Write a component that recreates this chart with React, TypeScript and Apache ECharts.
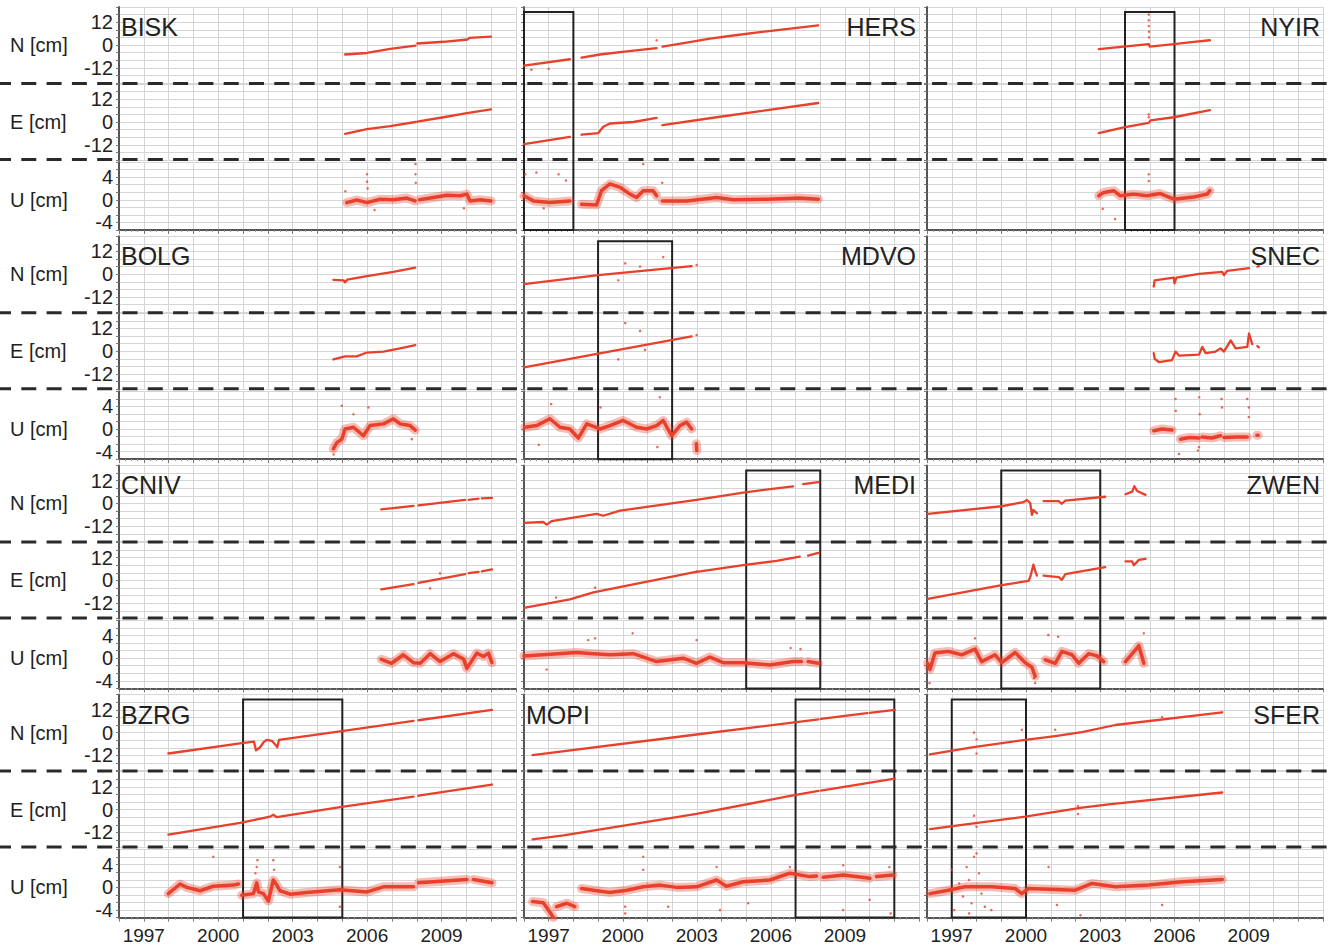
import React, { useEffect, useRef } from 'react';
import * as echarts from 'echarts';

type Pt = [number, number];
type Seg = Pt[];

// ---------- axis values ----------
const YEAR_MIN = 1996;
const YEAR_MAX = 2012;
const YEAR_LABELS = [1997, 2000, 2003, 2006, 2009];
const NE_TICK_LABELS = [12, 0, -12];
const U_TICK_LABELS = [4, 0, -4];
const COMPONENT_LABELS = ['N [cm]', 'E [cm]', 'U [cm]'];

// ---------- station data (year, cm) ----------
const BISK_N: Seg[] = [
  [[2005.11, -5.0], [2005.99, -4.2], [2006.93, -2.0], [2007.95, -0.3]],
  [[2008.02, 0.8], [2009.08, 1.7], [2010.05, 2.9], [2010.12, 3.8], [2010.99, 4.4]],
];
const BISK_E: Seg[] = [
  [[2005.11, -6.2], [2005.99, -3.8], [2006.93, -2.2], [2007.95, 0.0]],
  [[2008.02, 0.2], [2009.08, 2.5], [2010.02, 4.7], [2010.99, 6.7]],
];
const BISK_U: Seg[] = [
  [[2005.18, -0.5], [2005.58, -0.05], [2005.99, -0.5], [2006.52, 0.1], [2007.06, 0], [2007.6, 0.3], [2007.93, -0.2]],
  [[2008.11, 0], [2008.67, 0.4], [2009.21, 0.8], [2009.75, 0.7], [2010.02, 1.0], [2010.15, -0.2], [2010.56, 0], [2010.99, -0.2]],
];
const BISK_U_OUT: Pt[] = [[2006.0, 4.5], [2006.0, 3.2], [2006.02, 2.0], [2007.95, 6.3], [2007.95, 4.5], [2007.96, 3], [2005.12, 1.5], [2006.3, -1.8], [2009.9, -1.5]];

const HERS_N: Seg[] = [
  [[1996.0, -10.8], [1997.86, -7.5]],
  [[1998.33, -6.7], [1999.08, -5], [2000.16, -3.3], [2001.37, -1.7]],
  [[2001.61, -0.8], [2002.59, 1.2], [2003.53, 3.3], [2004.48, 5], [2005.83, 7.2], [2007.92, 10.3]],
];
const HERS_N_OUT: Pt[] = [[2001.37, 2.5], [1996.3, -13], [1997.0, -12.5]];
const HERS_E: Seg[] = [
  [[1996.0, -11.7], [1997.86, -7.8]],
  [[1998.33, -6.7], [1999.01, -5.8], [1999.21, -2.5], [1999.48, -0.8], [2000.43, 0], [2001.37, 2.2]],
  [[2001.61, -1.7], [2003.8, 2.5], [2007.92, 10]],
];
const HERS_U: Seg[] = [
  [[1996.0, 0.7], [1996.38, -0.2], [1997.05, -0.5], [1997.86, -0.2]],
  [[1998.33, -0.8], [1998.94, -0.9], [1999.14, 1.6], [1999.48, 2.8], [1999.89, 2.2], [2000.29, 1.0], [2000.56, 0.4], [2000.83, 1.6], [2001.23, 1.6], [2001.37, 0.7]],
  [[2001.61, -0.2], [2002.59, -0.2], [2003.8, 0.4], [2004.48, 0], [2005.83, 0.1], [2007.17, 0.3], [2007.92, 0.1]],
];
const HERS_U_OUT: Pt[] = [[1996.05, 4.5], [1996.5, 4.8], [1997.4, 4.5], [1997.7, 3.4], [2000.83, 6.3], [2001.6, 3], [1996.8, -1.5]];

const NYIR_N: Seg[] = [
  [[2002.94, -2.2], [2003.95, -0.8], [2004.96, 0.5], [2005.0, -0.8], [2005.97, 0.5], [2006.78, 1.7], [2007.43, 2.5]],
];
const NYIR_N_OUT: Pt[] = [[2004.96, 16], [2004.96, 13], [2004.96, 10], [2004.97, 7], [2004.97, 4]];
const NYIR_E: Seg[] = [
  [[2002.94, -5.8], [2003.95, -2.8], [2004.96, -0.5], [2005.03, 0.8], [2005.97, 2.5], [2007.43, 6.2]],
];
const NYIR_E_OUT: Pt[] = [[2004.96, 4], [2004.96, 2.5]];
const NYIR_U: Seg[] = [
  [[2002.94, 0.7], [2003.14, 1.3], [2003.54, 1.6], [2003.81, 0.7], [2004.35, 1.0], [2004.89, 0.7], [2005.43, 1.1], [2005.97, 0.1], [2006.78, 0.5], [2007.32, 1.0], [2007.43, 1.6]],
];
const NYIR_U_OUT: Pt[] = [[2004.96, 4.5], [2004.96, 3.3], [2003.1, -1.6], [2003.6, -3.4]];

const BOLG_N: Seg[] = [
  [[2004.64, -3], [2005.05, -3.2], [2005.11, -4.3], [2005.2, -2.9], [2005.99, -1], [2007.06, 1.2], [2007.94, 3.5]],
];
const BOLG_E: Seg[] = [
  [[2004.64, -4.3], [2005.11, -2.7], [2005.58, -2.7], [2005.99, -0.7], [2006.66, -0.2], [2007.33, 1.5], [2007.94, 3.2]],
];
const BOLG_U: Seg[] = [
  [[2004.64, -3.5], [2004.78, -2.4], [2004.98, -1.8], [2005.11, 0], [2005.45, 0.3], [2005.85, -1.2], [2006.12, 0.6], [2006.66, 0.9], [2007.06, 1.8], [2007.33, 0.9], [2007.73, 0.6], [2007.94, -0.2]],
];
const BOLG_U_OUT: Pt[] = [[2004.98, 4.1], [2006.05, 3.8], [2005.45, 2.6], [2007.8, -1.8], [2004.65, -4.5]];

const MDVO_N: Seg[] = [[[1996.0, -5.2], [1999.01, -0.5], [2002.79, 4.3]]];
const MDVO_N_OUT: Pt[] = [[2002.99, 4.8], [2001.64, 9], [1999.82, -3.2], [2000.1, 5.7], [2000.7, 4]];
const MDVO_E: Seg[] = [[[1996.0, -8.5], [1999.01, -1.3], [2002.79, 7.8]]];
const MDVO_E_OUT: Pt[] = [[2002.99, 8.5], [2000.1, 14.8], [2000.7, 10.7], [1999.82, -4.3], [2000.9, 0.7]];
const MDVO_U: Seg[] = [
  [[1996.04, 0.3], [1996.51, 0.6], [1997.05, 1.8], [1997.46, 0.3], [1997.86, 0], [1998.2, -1.6], [1998.54, 0.9], [1999.08, 0], [1999.48, 0.6], [2000.02, 1.5], [2000.56, 0.3], [2000.97, 0], [2001.37, 0.6], [2001.64, 1.5], [2001.98, -1.2], [2002.32, 0.6], [2002.59, 1.2], [2002.79, 0]],
  [[2002.98, -2.6], [2003.0, -3.8]],
];
const MDVO_U_OUT: Pt[] = [[1997.1, 4.4], [1999.1, 3.8], [2001.5, 5.6], [2001.4, -3.2], [1996.6, -2.8]];

const SNEC_N: Seg[] = [
  [[2005.16, -6.5], [2005.2, -3.2], [2005.97, -1.8], [2006.0, -4.8], [2006.08, -1.8], [2006.99, 0.2], [2007.93, 1.2], [2008.0, -0.5], [2008.13, 1.8], [2009.01, 3.2]],
  [[2009.35, 4.0], [2009.41, 4.2]],
];
const SNEC_E: Seg[] = [
  [[2005.16, -1], [2005.2, -4], [2005.37, -5.7], [2005.9, -4.7], [2006.04, -0.2], [2006.18, -2.3], [2006.99, -1.8], [2007.12, 2.3], [2007.26, -1], [2007.66, -0.2], [2007.86, 1.5], [2008.0, -0.2], [2008.27, 5.7], [2008.47, 1.5], [2008.94, 2.3], [2009.01, 9.3], [2009.14, 3.7]],
  [[2009.35, 2.7], [2009.41, 2]],
];
const SNEC_U: Seg[] = [
  [[2005.16, -0.3], [2005.5, 0], [2005.9, -0.2]],
  [[2006.24, -1.8], [2006.6, -1.5], [2006.99, -1.6]],
  [[2007.12, -1.4], [2007.5, -1.6], [2007.86, -1.2]],
  [[2008.0, -1.5], [2008.5, -1.4], [2008.94, -1.4]],
  [[2009.33, -1.1], [2009.38, -1.1]],
];
const SNEC_U_OUT: Pt[] = [[2006.04, 5.3], [2006.05, 3.2], [2006.18, -4.4], [2007.0, 5.6], [2007.02, 2.6], [2006.95, -3.8], [2007.9, 5.3], [2007.92, 3.8], [2008.94, 5.3], [2009.0, 3.8], [2009.0, 2.1], [2006.99, -3.2]];

const CNIV_N: Seg[] = [
  [[2006.57, -3.2], [2007.87, -1.3]],
  [[2008.07, -1], [2009.95, 1.8]],
  [[2010.09, 1.9], [2010.49, 2.5]],
  [[2010.62, 2.6], [2011.03, 2.9]],
];
const CNIV_E: Seg[] = [
  [[2006.57, -4.7], [2007.87, -2]],
  [[2008.07, -1.3], [2009.95, 3.3]],
  [[2010.09, 3.8], [2010.49, 4.5]],
  [[2010.62, 4.8], [2011.03, 5.8]],
];
const CNIV_E_OUT: Pt[] = [[2008.94, 3.7], [2008.54, -4.2]];
const CNIV_U: Seg[] = [
  [[2006.57, -0.2], [2006.99, -0.9], [2007.46, 0.6], [2007.87, -0.8], [2008.14, -0.9], [2008.54, 0.8], [2008.94, -0.6], [2009.48, 0.8], [2009.89, -0.2], [2010.02, -1.8], [2010.42, 0.9], [2010.69, 0.3], [2010.89, 0.9], [2011.03, -0.8]],
];

const MEDI_N: Seg[] = [
  [[1996.0, -10.2], [1996.78, -9.8], [1996.92, -11.2], [1997.12, -9.3], [1998.94, -5.5], [1999.21, -6.5], [1999.89, -3.8], [2002.99, 1.8], [2004.88, 5.7], [2006.9, 9]],
  [[2007.31, 10.2], [2007.92, 11.2]],
];
const MEDI_E: Seg[] = [
  [[1996.0, -14.5], [1997.86, -10], [1998.81, -6.3], [2002.86, 4.2], [2004.88, 8], [2006.23, 10.3], [2007.17, 12.5]],
  [[2007.51, 13], [2007.92, 14.5]],
];
const MEDI_E_OUT: Pt[] = [[1998.88, -3.8], [2002.99, 4.8], [1997.3, -9.0]];
const MEDI_U: Seg[] = [
  [[1996.0, 0.4], [1996.78, 0.6], [1998.13, 1.0], [1998.81, 0.8], [1999.48, 0.6], [2000.43, 0.8], [2001.37, -0.6], [2002.45, 0], [2002.99, -0.9], [2003.53, 0.2], [2004.07, -0.8], [2004.88, -0.8], [2005.96, -1.2], [2006.9, -0.6], [2007.24, -0.6]],
  [[2007.51, -0.6], [2007.92, -0.9]],
];
const MEDI_U_OUT: Pt[] = [[1998.88, 3.5], [1998.6, 3.2], [2006.8, 1.8], [2007.2, 1.6], [2000.4, 4.4], [2002.99, 3.2], [1996.92, -2]];

const ZWEN_N: Seg[] = [
  [[1996.03, -5.5], [1999.02, -1.5], [1999.9, 0.7], [2000.04, 1.8], [2000.17, 0.2], [2000.24, -6], [2000.3, -3.5], [2000.44, -5.2]],
  [[2000.71, 1.2], [2001.32, 1.2], [2001.45, -0.2], [2001.59, 1.5], [2003.2, 3.5]],
  [[2004.02, 4.8], [2004.29, 6.2], [2004.38, 9], [2004.49, 6.5], [2004.83, 4.5]],
];
const ZWEN_E: Seg[] = [
  [[1996.03, -9.7], [1999.02, -2.5], [2000.1, -0.3], [2000.17, 1.7], [2000.3, 8.3], [2000.37, 5], [2000.44, 2.5]],
  [[2000.71, 2.5], [2001.32, 1.7], [2001.45, 0.3], [2001.59, 3.3], [2003.2, 7]],
  [[2004.02, 10], [2004.29, 10], [2004.36, 8], [2004.56, 10.8], [2004.83, 11.3]],
];
const ZWEN_U: Seg[] = [
  [[1996.03, -0.9], [1996.12, -2], [1996.32, 0.9], [1996.86, 1.2], [1997.4, 0.6], [1997.94, 1.6], [1998.21, -0.6], [1998.75, 0.6], [1999.02, -0.8], [1999.56, 1.0], [1999.97, -0.8], [2000.24, -1.6], [2000.37, -3.2]],
  [[2000.78, -0.3], [2001.18, -0.9], [2001.45, 1.2], [2001.86, 0.6], [2002.13, -0.9], [2002.53, 0.8], [2002.87, 0.4], [2003.14, -0.6]],
  [[2004.02, -0.6], [2004.43, 1.5], [2004.56, 2.2], [2004.76, -0.9]],
];
const ZWEN_U_OUT: Pt[] = [[2000.37, -4.4], [2000.33, -3.5], [2000.9, 4.1], [2001.3, 3.8], [2004.76, 4.4], [1996.1, -4.4], [1997.94, 3.5]];

const BZRG_N: Seg[] = [
  [[1997.99, -11], [2000.88, -5.7], [2001.44, -4.8], [2001.52, -9.3], [2001.69, -7.7], [2001.82, -5.2], [2001.95, -3.8], [2002.16, -4.3], [2002.33, -6.8], [2002.38, -7.7], [2002.45, -3.8], [2004.91, 0.7], [2007.87, 6.2]],
  [[2008.07, 6.5], [2011.03, 12]],
];
const BZRG_E: Seg[] = [
  [[1997.99, -13.2], [2000.88, -7], [2002.09, -3.7], [2002.22, -2.7], [2002.36, -4], [2004.91, 1.3], [2007.87, 6.8]],
  [[2008.07, 7.3], [2011.03, 13.2]],
];
const BZRG_U: Seg[] = [
  [[1997.99, -1.1], [1998.46, 0.6], [1998.73, 0], [1999.27, -0.6], [1999.8, 0.2], [2000.61, 0.4], [2000.81, 0.6]],
  [[2000.95, -1.4], [2001.42, -1.1], [2001.55, 0.8], [2001.62, -0.8], [2001.82, -1.1], [2002.02, -2.4], [2002.22, 1.3], [2002.36, 0.4], [2002.49, -0.6], [2002.9, -1.2], [2003.57, -0.9], [2004.64, -0.5], [2004.91, -0.4], [2005.99, -0.8], [2006.66, 0.1], [2007.87, 0.1]],
  [[2008.07, 0.8], [2010.02, 1.4]],
  [[2010.29, 1.4], [2011.03, 0.8]],
];
const BZRG_U_OUT: Pt[] = [[2001.55, 3.6], [2001.58, 4.8], [2001.5, 2.5], [2002.22, 4.8], [2002.25, 3.1], [1999.8, 5.4], [2004.9, 3.6], [2004.9, -3.4]];

const MOPI_N: Seg[] = [
  [[1996.35, -11.8], [2002.99, -1], [2007.93, 7.0]],
  [[2008.03, 7.2], [2009.9, 10.2]],
  [[2010.0, 10.4], [2011.02, 12]],
];
const MOPI_E: Seg[] = [
  [[1996.35, -15.7], [1997.6, -13.6], [2002.99, -2.3], [2006.84, 7.3], [2007.93, 9.8]],
  [[2008.03, 10], [2011.02, 16.3]],
];
const MOPI_U: Seg[] = [
  [[1996.35, -2.5], [1996.78, -2.7], [1996.99, -4], [1997.19, -5.3]],
  [[1997.32, -3.4], [1997.73, -2.8], [1998.06, -3.4]],
  [[1998.33, -0.2], [1998.81, -0.5], [1999.48, -0.9], [2000.16, -0.5], [2000.83, 0.1], [2001.51, 0.4], [2002.18, 0], [2002.99, 0.1], [2003.8, 1.3], [2004.2, 0.2], [2004.88, 1.0], [2005.96, 1.3], [2006.77, 2.5], [2007.58, 1.9], [2007.85, 2.0]],
  [[2008.12, 1.8], [2008.93, 2.2], [2010.01, 1.6]],
  [[2010.28, 1.9], [2010.95, 2.2]],
];
const MOPI_U_OUT: Pt[] = [[2000.1, -4.6], [2000.1, -3.4], [2001.84, -3.4], [2003.94, -4], [2005.08, -2.8], [2008.93, -4], [2010.0, -2.2], [2003.8, 3.6], [2000.83, 5.4], [2000.83, 3.1], [2006.77, 3.6], [2008.93, 3.9], [2010.8, 3.6], [2010.85, -4.6]];

const SFER_N: Seg[] = [
  [[1996.12, -11.5], [1997.88, -7.7], [1999.97, -3.8], [2001.18, -1.8], [2002.26, 0.2], [2003.61, 4], [2007.93, 10.7]],
];
const SFER_N_OUT: Pt[] = [[1998.0, -3.5], [1997.9, 0], [1998.0, -11], [2001.18, 1.5], [1999.83, 1.5], [2005.5, 8.2]];
const SFER_E: Seg[] = [
  [[1996.12, -10.3], [1997.88, -7.3], [1999.97, -3.7], [2002.26, 1], [2003.34, 2.7], [2007.93, 9]],
];
const SFER_E_OUT: Pt[] = [[1997.9, -3.2], [1998.0, -9], [2002.1, -2.3], [2002.1, 1.8]];
const SFER_U: Seg[] = [
  [[1996.12, -1.1], [1996.86, -0.5], [1997.54, 0.1], [1998.62, 0.1], [1999.56, -0.2], [1999.83, -1.1], [2000.1, -0.2], [2001.99, -0.5], [2002.67, 0.7], [2003.61, 0.1], [2004.96, 0.4], [2006.31, 1.0], [2007.93, 1.4]],
];
const SFER_U_OUT: Pt[] = [[1997.0, 3.1], [1997.1, -4], [1997.6, 3.6], [1997.7, -4.6], [1997.9, 5.4], [1998.0, 6], [1998.1, 2.5], [1998.2, -1.1], [1998.34, -3.4], [1998.6, -4], [1997.3, 0.7], [1997.45, -1.6], [1997.7, 1.3], [1997.8, -2.8], [2000.91, 3.6], [2001.25, -3.1], [2002.2, -4.9], [2005.5, -3.1]];

const NONE: Pt[] = [];

// ---------- station table ----------
const STATION_NAMES = ['BISK', 'HERS', 'NYIR', 'BOLG', 'MDVO', 'SNEC', 'CNIV', 'MEDI', 'ZWEN', 'BZRG', 'MOPI', 'SFER'];
const NAME_ON_LEFT = ['BISK', 'BOLG', 'CNIV', 'BZRG', 'MOPI'];
const BOX_STATIONS = ['HERS', 'NYIR', 'MDVO', 'MEDI', 'ZWEN', 'BZRG', 'MOPI', 'SFER'];
const BOX_FROM = [1996, 2004, 1999, 2005, 1999, 2001, 2007, 1997];
const BOX_TO = [1998, 2006, 2002, 2008, 2003, 2005, 2011, 2000];

const STATION_SERIES: Record<string, [Seg[], Seg[], Seg[]]> = {
  BISK: [BISK_N, BISK_E, BISK_U], HERS: [HERS_N, HERS_E, HERS_U], NYIR: [NYIR_N, NYIR_E, NYIR_U],
  BOLG: [BOLG_N, BOLG_E, BOLG_U], MDVO: [MDVO_N, MDVO_E, MDVO_U], SNEC: [SNEC_N, SNEC_E, SNEC_U],
  CNIV: [CNIV_N, CNIV_E, CNIV_U], MEDI: [MEDI_N, MEDI_E, MEDI_U], ZWEN: [ZWEN_N, ZWEN_E, ZWEN_U],
  BZRG: [BZRG_N, BZRG_E, BZRG_U], MOPI: [MOPI_N, MOPI_E, MOPI_U], SFER: [SFER_N, SFER_E, SFER_U],
};
const STATION_OUTLIERS: Record<string, [Pt[], Pt[], Pt[]]> = {
  BISK: [NONE, NONE, BISK_U_OUT], HERS: [HERS_N_OUT, NONE, HERS_U_OUT], NYIR: [NYIR_N_OUT, NYIR_E_OUT, NYIR_U_OUT],
  BOLG: [NONE, NONE, BOLG_U_OUT], MDVO: [MDVO_N_OUT, MDVO_E_OUT, MDVO_U_OUT], SNEC: [NONE, NONE, SNEC_U_OUT],
  CNIV: [NONE, CNIV_E_OUT, NONE], MEDI: [NONE, MEDI_E_OUT, MEDI_U_OUT], ZWEN: [NONE, NONE, ZWEN_U_OUT],
  BZRG: [NONE, NONE, BZRG_U_OUT], MOPI: [NONE, NONE, MOPI_U_OUT], SFER: [SFER_N_OUT, SFER_E_OUT, SFER_U_OUT],
};

// ---------- layout / style ----------
const W = 1334;
const H = 947;
const COL_X0 = [119, 524, 927];
const COL_W = [397, 395, 396];
const ROW_STEP = 229.2;
const SUB_TOP = [7, 84, 162];
const SUB_H = [76, 76, 68];
const FRAME_TOP = 12;
const FRAME_H = 218;
const DASH_Y = [83.5, 159.5];
const RED = '#e8402a';
const GRID_COLOR = '#d6d6d6';
const AXIS_COLOR = '#555555';
const TEXT_COLOR = '#222222';
const FONT = "'Liberation Sans', Arial, Helvetica, sans-serif";

function segmentsToData(segs: Seg[]): any[] {
  const out: any[] = [];
  segs.forEach((s, i) => {
    if (i > 0) out.push([s[0][0], '-']);
    s.forEach((p) => out.push([p[0], p[1]]));
  });
  return out;
}

function buildOption() {
  const grid: any[] = [];
  const xAxis: any[] = [];
  const yAxis: any[] = [];
  const series: any[] = [];
  const graphic: any[] = [];

  STATION_NAMES.forEach((name, i) => {
    const row = Math.floor(i / 3);
    const col = i % 3;
    const off = row * ROW_STEP;
    const comps = STATION_SERIES[name];
    const outs = STATION_OUTLIERS[name];

    for (let c = 0; c < 3; c++) {
      const gi = grid.length;
      const isU = c === 2;
      grid.push({ left: COL_X0[col], top: SUB_TOP[c] + off, width: COL_W[col], height: SUB_H[c], outerBoundsMode: 'none', containLabel: false });
      xAxis.push({
        type: 'value', gridIndex: gi, min: YEAR_MIN, max: YEAR_MAX, interval: 1,
        axisLine: { show: isU, onZero: false, lineStyle: { color: AXIS_COLOR, width: 2 } },
        axisTick: { show: isU, length: 4, lineStyle: { color: '#777' } },
        minorTick: { show: isU, splitNumber: 4, length: 2, lineStyle: { color: '#999' } },
        axisLabel: {
          show: isU && row === 3, fontSize: 19, color: TEXT_COLOR, fontFamily: FONT, margin: 8,
          formatter: (v: number) => {
            const r = Math.round(v);
            return Math.abs(v - r) < 1e-6 && YEAR_LABELS.includes(r) ? String(r) : '';
          },
        },
        splitLine: { show: true, lineStyle: { color: GRID_COLOR, width: 1 } },
      });
      const labels = isU ? U_TICK_LABELS : NE_TICK_LABELS;
      yAxis.push({
        type: 'value', gridIndex: gi,
        min: isU ? -16 / 3 : -20, max: isU ? 20 / 3 : 20, interval: isU ? 4 / 3 : 4,
        axisLine: { show: true, onZero: false, lineStyle: { color: AXIS_COLOR, width: 2 } },
        axisTick: { show: true, length: 3, lineStyle: { color: '#777' } },
        axisLabel: {
          show: col === 0, fontSize: 20, color: TEXT_COLOR, fontFamily: FONT, margin: 6,
          formatter: (v: number) => {
            const m = labels.find((l) => Math.abs(l - v) < 1e-6);
            return m === undefined ? '' : String(m);
          },
        },
        splitLine: { show: true, lineStyle: { color: GRID_COLOR, width: 1 } },
      });
      const data = segmentsToData(comps[c]);
      if (isU) {
        // scattered fringe of the daily solutions
        series.push({
          type: 'line', xAxisIndex: gi, yAxisIndex: gi, data,
          symbol: 'none', showSymbol: false, silent: true, clip: true, z: 2,
          lineStyle: { color: RED, width: 9, opacity: 0.35, join: 'round', cap: 'round' },
        });
      }
      series.push({
        type: 'line', xAxisIndex: gi, yAxisIndex: gi, data,
        symbol: 'none', showSymbol: false, silent: true, clip: true, z: 3,
        lineStyle: { color: RED, width: isU ? 3.5 : 2.3, join: 'round', cap: 'round' },
      });
      if (outs[c].length) {
        series.push({
          type: 'scatter', xAxisIndex: gi, yAxisIndex: gi, data: outs[c],
          symbol: 'circle', symbolSize: 2.5, silent: true, clip: true, z: 3,
          itemStyle: { color: RED },
        });
      }
    }

    // station name
    const left = NAME_ON_LEFT.includes(name);
    graphic.push({
      type: 'text', silent: true, z: 50,
      x: left ? COL_X0[col] + 2 : COL_X0[col] + COL_W[col] - 3,
      y: 27 + off,
      style: {
        text: name, fill: TEXT_COLOR, fontSize: 25, fontFamily: FONT,
        align: left ? 'left' : 'right', verticalAlign: 'middle',
        textAlign: left ? 'left' : 'right', textVerticalAlign: 'middle',
      },
    });

    // highlight box spanning N, E and U
    const bi = BOX_STATIONS.indexOf(name);
    if (bi >= 0) {
      const gi = grid.length;
      grid.push({ left: COL_X0[col], top: FRAME_TOP + off, width: COL_W[col], height: FRAME_H, outerBoundsMode: 'none', containLabel: false });
      xAxis.push({ type: 'value', gridIndex: gi, min: YEAR_MIN, max: YEAR_MAX, show: false });
      yAxis.push({ type: 'value', gridIndex: gi, min: 0, max: 1, show: false });
      series.push({
        type: 'line', xAxisIndex: gi, yAxisIndex: gi, data: [[YEAR_MIN, -1]], symbol: 'none',
        lineStyle: { width: 0 }, silent: true, z: 20,
        markArea: {
          silent: true,
          itemStyle: { color: 'rgba(0,0,0,0)', borderColor: '#222', borderWidth: 2 },
          data: [[{ xAxis: BOX_FROM[bi] }, { xAxis: BOX_TO[bi] }]],
        },
      });
    }
  });

  // left component labels and dashed separators for each row
  for (let row = 0; row < 4; row++) {
    const off = row * ROW_STEP;
    const centers = [
      SUB_TOP[0] + SUB_H[0] / 2,
      SUB_TOP[1] + SUB_H[1] / 2,
      SUB_TOP[2] + SUB_H[2] * ((20 / 3) / 12),
    ];
    COMPONENT_LABELS.forEach((t, c) => {
      graphic.push({
        type: 'text', silent: true, z: 50, x: 10, y: centers[c] + off,
        style: { text: t, fill: TEXT_COLOR, fontSize: 20, fontFamily: FONT, align: 'left', verticalAlign: 'middle', textAlign: 'left', textVerticalAlign: 'middle' },
      });
    });
    DASH_Y.forEach((dy) => {
      graphic.push({
        type: 'line', silent: true, z: 100,
        shape: { x1: -4, y1: dy + off, x2: W + 6, y2: dy + off },
        style: { stroke: '#2a2a2a', lineWidth: 3, lineDash: [15, 10.3] },
      });
    });
  }

  return {
    animation: false,
    backgroundColor: '#ffffff',
    grid, xAxis, yAxis, series, graphic,
  };
}

export default function App() {
  const ref = useRef<HTMLDivElement>(null);
  useEffect(() => {
    document.body.style.margin = '0';
    if (!ref.current) return;
    const chart = echarts.init(ref.current, undefined, { renderer: 'svg' });
    chart.setOption(buildOption() as any);
    return () => chart.dispose();
  }, []);
  return <div ref={ref} style={{ width: W, height: H }} />;
}
